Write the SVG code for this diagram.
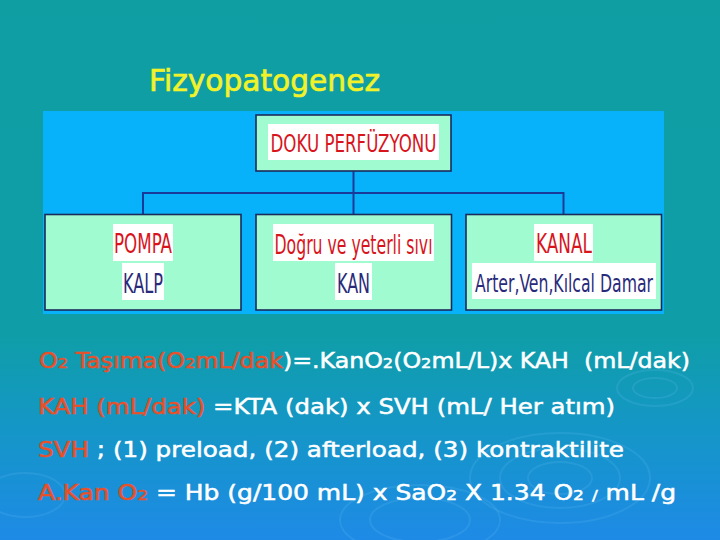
<svg xmlns="http://www.w3.org/2000/svg" width="720" height="540" viewBox="0 0 720 540">
<defs>
<linearGradient id="bg" x1="0" y1="0" x2="0" y2="1">
<stop offset="0" stop-color="#0F9EA2"/>
<stop offset="0.62" stop-color="#0F9EA8"/>
<stop offset="0.8" stop-color="#1596C8"/>
<stop offset="1" stop-color="#1E8AE6"/>
</linearGradient>
<style>
.box{fill:#A0FCD0;stroke:#1C2A5A;stroke-width:1.6}
.wb{fill:#FFFFFF}
.red{fill:#D8141C}
.navy{fill:#2A2A7A}
.bt{font-family:"DejaVu Sans Condensed","DejaVu Sans","Liberation Sans",sans-serif;text-anchor:middle}
.ln{font-family:"DejaVu Sans","Liberation Sans",sans-serif;font-size:20.5px;fill:#FFFFFF;stroke:#FFFFFF;stroke-width:0.5;white-space:pre}
.or{fill:#E8502A;stroke:#E8502A}
.sub{font-size:14px}
.conn{fill:none;stroke:#1A3A9A;stroke-width:2}
.rip{fill:none;stroke:#6CC0F4;stroke-opacity:0.18;stroke-width:2}
</style>
</defs>
<rect width="720" height="540" fill="url(#bg)"/>
<g id="ripples">
<ellipse class="rip" cx="655" cy="388" rx="38" ry="18"/>
<ellipse class="rip" cx="655" cy="388" rx="22" ry="10"/>
<ellipse class="rip" cx="560" cy="478" rx="90" ry="45"/>
<ellipse class="rip" cx="560" cy="478" rx="60" ry="30"/>
<ellipse class="rip" cx="560" cy="478" rx="32" ry="16"/>
<ellipse class="rip" cx="420" cy="520" rx="80" ry="35"/>
<ellipse class="rip" cx="420" cy="520" rx="50" ry="22"/>
<ellipse class="rip" cx="25" cy="495" rx="40" ry="22"/>
</g>
<text x="149" y="91" font-family="DejaVu Sans,Liberation Sans,sans-serif" font-size="30" fill="#F2F22A" stroke="#F2F22A" stroke-width="0.7" textLength="231" lengthAdjust="spacingAndGlyphs">Fizyopatogenez</text>
<rect id="panel" x="43" y="111" width="621" height="203" fill="#08B2FA"/>
<g id="connectors">
<path class="conn" d="M353.5 171 V193 M143 214 V193 H563.5 V214 M353.5 193 V214"/>
</g>
<g id="doku">
<rect class="box" x="256" y="115" width="195" height="56"/>
<rect class="wb" x="268" y="124" width="171" height="36"/>
<text class="bt red" x="353.5" y="152" font-size="24" textLength="166" lengthAdjust="spacingAndGlyphs">DOKU PERFÜZYONU</text>
</g>
<g id="pompa">
<rect class="box" x="45" y="214.5" width="196" height="95.5"/>
<rect class="wb" x="113" y="224" width="60" height="37"/>
<rect class="wb" x="122" y="263" width="42" height="37"/>
<text class="bt red" x="143" y="253" font-size="26" textLength="58" lengthAdjust="spacingAndGlyphs">POMPA</text>
<text class="bt navy" x="143" y="293" font-size="26" textLength="40" lengthAdjust="spacingAndGlyphs">KALP</text>
</g>
<g id="kan">
<rect class="box" x="256" y="214.5" width="195.5" height="95.5"/>
<rect class="wb" x="273" y="224" width="161" height="37"/>
<rect class="wb" x="335" y="263" width="37" height="37"/>
<text class="bt red" x="353.5" y="254" font-size="26" textLength="158" lengthAdjust="spacingAndGlyphs">Doğru ve yeterli sıvı</text>
<text class="bt navy" x="353.5" y="293" font-size="26" textLength="33" lengthAdjust="spacingAndGlyphs">KAN</text>
</g>
<g id="kanal">
<rect class="box" x="466" y="214.5" width="195.5" height="95.5"/>
<rect class="wb" x="534" y="224" width="59" height="37"/>
<rect class="wb" x="472" y="263" width="184" height="36"/>
<text class="bt red" x="564" y="253" font-size="26" textLength="56" lengthAdjust="spacingAndGlyphs">KANAL</text>
<text class="bt navy" x="564" y="292" font-size="24" textLength="178" lengthAdjust="spacingAndGlyphs">Arter,Ven,Kılcal Damar</text>
</g>
<g id="lines">
<text class="ln" x="39" y="368" textLength="651" lengthAdjust="spacingAndGlyphs"><tspan class="or">O<tspan class="sub">2</tspan> Taşıma(O<tspan class="sub">2</tspan>mL/dak</tspan>)=.KanO<tspan class="sub">2</tspan>(O<tspan class="sub">2</tspan>mL/L)x KAH  (mL/dak)</text>
<text class="ln" x="38" y="414" textLength="577" lengthAdjust="spacingAndGlyphs"><tspan class="or">KAH (mL/dak)</tspan> =KTA (dak) x SVH (mL/ Her atım)</text>
<text class="ln" x="38" y="457" textLength="586" lengthAdjust="spacingAndGlyphs"><tspan class="or">SVH</tspan> ; (1) preload, (2) afterload, (3) kontraktilite</text>
<text class="ln" x="38" y="500" textLength="638" lengthAdjust="spacingAndGlyphs"><tspan class="or">A.Kan O<tspan class="sub">2</tspan></tspan> = Hb (g/100 mL) x SaO<tspan class="sub">2</tspan> X 1.34 O<tspan class="sub">2</tspan> <tspan class="sub">/</tspan> mL /g</text>
</g>
</svg>
